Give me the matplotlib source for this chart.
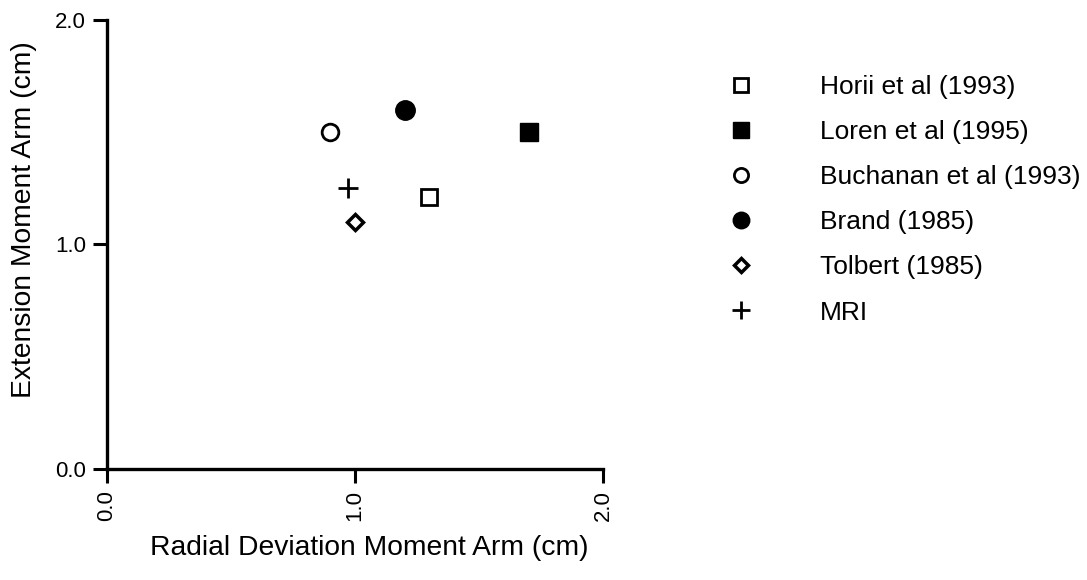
import matplotlib
matplotlib.use("Agg")
import matplotlib.pyplot as plt

# moment arm data (cm) for each study
studies = ["Horii et al (1993)", "Loren et al (1995)", "Buchanan et al (1993)",
           "Brand (1985)", "Tolbert (1985)", "MRI"]
radial_dev = [1.30, 1.70, 0.90, 1.20, 1.00, 0.97]
extension = [1.21, 1.50, 1.50, 1.60, 1.10, 1.25]

styles = [
    dict(marker="s", mfc="white", mec="black", ms=12, mew=2.0),
    dict(marker="s", mfc="black", mec="black", ms=13, mew=1.0),
    dict(marker="o", mfc="white", mec="black", ms=12, mew=2.0),
    dict(marker="o", mfc="black", mec="black", ms=14, mew=1.0),
    dict(marker="D", mfc="white", mec="black", ms=8.5, mew=2.5),
    dict(marker="+", mfc="none", mec="black", ms=15, mew=2.0),
]

plt.rcParams["font.family"] = ["Liberation Sans", "DejaVu Sans"]

fig = plt.figure(figsize=(10.87, 5.80), dpi=100)
ax = fig.add_axes([0.0984, 0.1914, 0.4563, 0.7741])

for x, y, name, st in zip(radial_dev, extension, studies, styles):
    ax.plot([x], [y], linestyle="none", label=name, **st)

ax.set_xlim(0, 2.0)
ax.set_ylim(0, 2.0)
ax.set_xticks([0.0, 1.0, 2.0])
ax.set_yticks([0.0, 1.0, 2.0])
ax.set_xticklabels(["0.0", "1.0", "2.0"], rotation=90, fontsize=16)
ax.set_yticklabels(["0.0", "1.0", "2.0"], fontsize=16)
ax.tick_params(axis="both", width=2.2, length=10, pad=5)

for side in ("top", "right"):
    ax.spines[side].set_visible(False)
for side in ("left", "bottom"):
    ax.spines[side].set_linewidth(2.4)

ax.set_xlabel("Radial Deviation Moment Arm (cm)", fontsize=20.3, labelpad=10)
ax.set_ylabel("Extension Moment Arm (cm)", fontsize=20.3, labelpad=13)
ax.xaxis.label.set_x(0.528)
ax.yaxis.label.set_y(0.555)

ax.legend(loc="upper left", bbox_to_anchor=(728 / 1087, 1 - 75 / 580),
          bbox_transform=fig.transFigure, frameon=False, numpoints=1,
          fontsize=19, markerscale=0.85, handlelength=1.0,
          handletextpad=2.5, labelspacing=0.8, borderpad=0, borderaxespad=0)

fig.savefig("out.png", dpi=100)
